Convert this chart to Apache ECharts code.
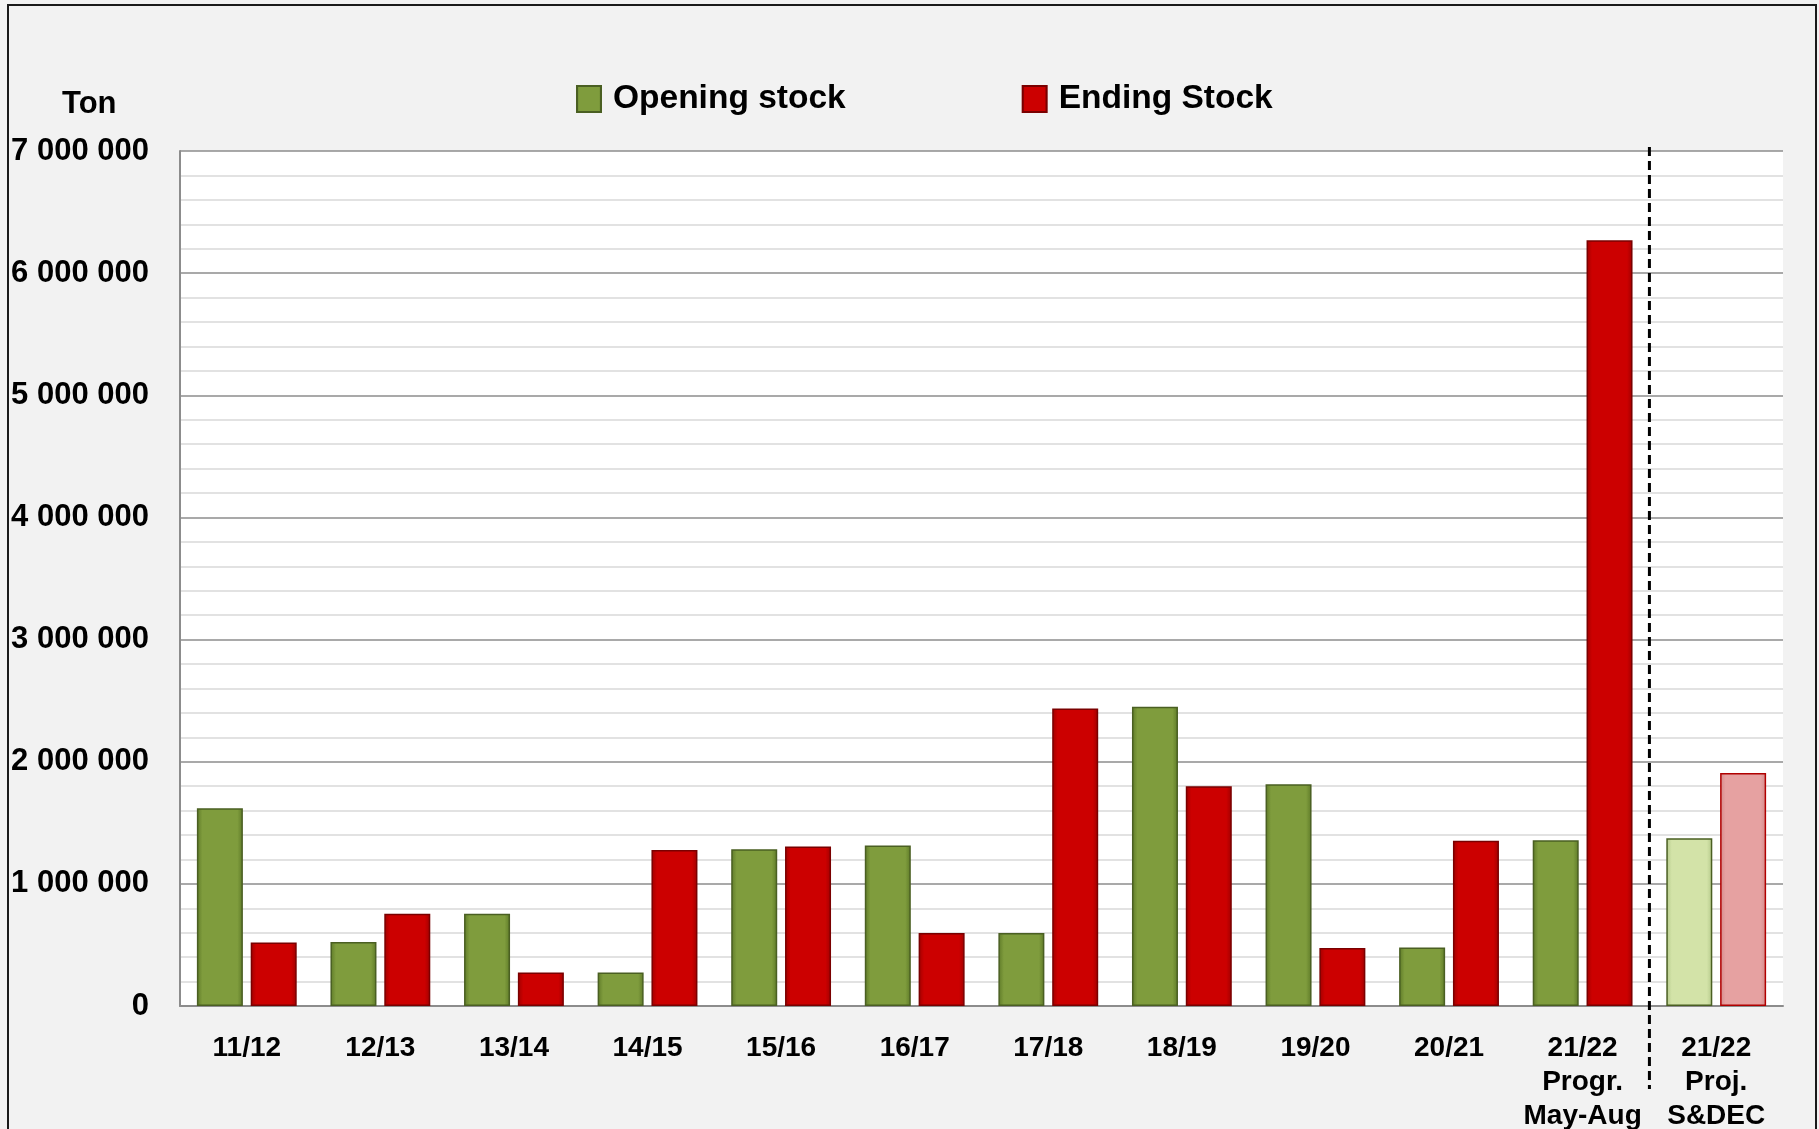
<!DOCTYPE html>
<html>
<head>
<meta charset="utf-8">
<script src="https://cdn.jsdelivr.net/npm/echarts@6/dist/echarts.min.js"></script>
<style>
html,body{margin:0;padding:0;background:#f2f2f2}
#chart{width:1819px;height:1129px}
</style>
</head>
<body>
<div id="chart"></div>
<script>
var seasons = ['11/12', '12/13', '13/14', '14/15', '15/16', '16/17', '17/18', '18/19', '19/20', '20/21',
	'21/22\nProgr.\nMay-Aug', '21/22\nProj.\nS&DEC'];
var opening_stock = [1620000, 525000, 755000, 275000, 1284000, 1314000, 597000, 2450000, 1815000, 478000, 1357000, 1374000];
var ending_stock = [520000, 755000, 275000, 1278000, 1306000, 597000, 2435000, 1800000, 474000, 1352000, 6270000, 1908000];
var y_max = 7000000;
var y_step = 1000000;

var font = 'Liberation Sans';

function bevel(edge, mid) {
	return new echarts.graphic.LinearGradient(0, 0, 1, 0, [
		{offset: 0, color: edge},
		{offset: 0.12, color: mid},
		{offset: 0.88, color: mid},
		{offset: 1, color: edge}
	]);
}

var green = bevel('#5e7a28', '#7f9c3d');
var red = bevel('#a00000', '#cc0000');
var green_proj = bevel('#b4c98a', '#d3e3a8');
var red_proj = bevel('#d48a8a', '#e6a1a1');

// last season is a projection, drawn in pale colours
function build(values, proj_color, proj_border) {
	var out = [];
	for (var i = 0; i < values.length; i++) {
		if (i == values.length - 1) {
			out.push({value: values[i], itemStyle: {color: proj_color, borderColor: proj_border}});
		}
		else out.push(values[i]);
	}
	return out;
}

function spaced(v) {
	return String(v).replace(/\B(?=(\d{3})+(?!\d))/g, ' ');
}

var chart = echarts.init(document.getElementById('chart'));
var option = {
	backgroundColor: '#f2f2f2',
	animation: false,
	title: {
		text: 'Ton',
		left: 57,
		top: 84,
		textStyle: {fontFamily: font, fontWeight: 'bold', fontSize: 31, color: '#000'}
	},
	legend: {
		left: 571,
		top: 77,
		itemWidth: 24,
		itemHeight: 26,
		itemGap: 176,
		icon: 'rect',
		textStyle: {fontFamily: font, fontWeight: 'bold', fontSize: 33.5, color: '#000', padding: [0, 0, 0, 7]},
		data: ['Opening stock', 'Ending Stock']
	},
	grid: {
		left: 180,
		right: 36,
		top: 151,
		bottom: 123,
		outerBoundsMode: 'none',
		containLabel: false,
		show: true,
		backgroundColor: '#fff',
		borderWidth: 0
	},
	xAxis: {
		type: 'category',
		data: seasons,
		axisTick: {show: false},
		axisLine: {lineStyle: {color: '#8c8c8c', width: 2}},
		axisLabel: {
			interval: 0,
			margin: 25,
			fontFamily: font,
			fontWeight: 'bold',
			fontSize: 28,
			lineHeight: 34,
			color: '#000'
		}
	},
	yAxis: {
		type: 'value',
		min: 0,
		max: y_max,
		interval: y_step,
		axisLine: {show: true, lineStyle: {color: '#8c8c8c', width: 2}},
		axisTick: {show: false},
		splitLine: {lineStyle: {color: '#8c8c8c', width: 1.5}},
		minorTick: {show: false, splitNumber: 5},
		minorSplitLine: {show: true, lineStyle: {color: '#d9d9d9', width: 1.5}},
		axisLabel: {
			margin: 31,
			fontFamily: font,
			fontWeight: 'bold',
			fontSize: 31,
			color: '#000',
			formatter: spaced
		}
	},
	series: [
		{
			name: 'Opening stock',
			type: 'bar',
			barWidth: 46,
			barGap: '17%',
			itemStyle: {color: green, borderColor: '#4a5f22', borderWidth: 1.5},
			data: build(opening_stock, green_proj, '#4a5f22')
		},
		{
			name: 'Ending Stock',
			type: 'bar',
			barWidth: 46,
			barGap: '17%',
			itemStyle: {color: red, borderColor: '#7a0000', borderWidth: 1.5},
			data: build(ending_stock, red_proj, '#b00000')
		}
	]
};
chart.setOption(option);

// dashed separator between recorded and projected seasons
var xa = chart.convertToPixel({xAxisIndex: 0}, seasons[seasons.length - 2]);
var xb = chart.convertToPixel({xAxisIndex: 0}, seasons[seasons.length - 1]);
var xm = (xa + xb) / 2;
var ytop = chart.convertToPixel({yAxisIndex: 0}, y_max) - 4;
chart.setOption({
	graphic: [
		{
			type: 'line',
			shape: {x1: xm, y1: ytop, x2: xm, y2: ytop + 942},
			style: {stroke: '#000', lineWidth: 3, lineDash: [9, 5]},
			z: 100
		},
		{
			type: 'rect',
			shape: {x: 8, y: 5, width: 1808, height: 1200},
			style: {fill: 'none', stroke: '#1a1a1a', lineWidth: 2},
			z: 100
		}
	]
});
</script>
</body>
</html>
